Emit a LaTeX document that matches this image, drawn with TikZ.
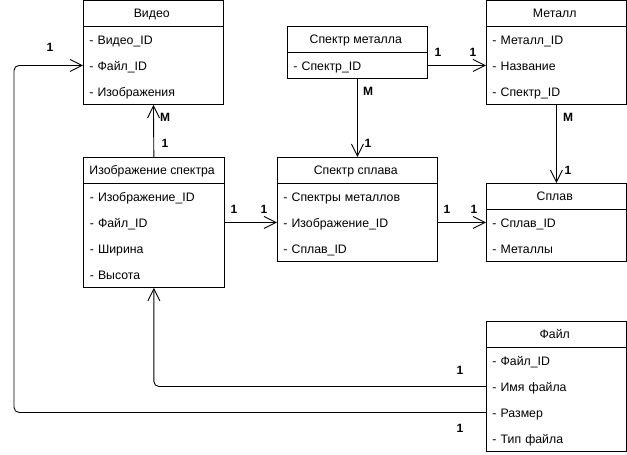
\documentclass[tikz,border=0pt]{standalone}
\usepackage{fontspec}
\setmainfont{Liberation Sans}
\usetikzlibrary{matrix,arrows.meta}
\tikzset{
entity/.style={
  matrix of nodes,
  draw,
  inner sep=0pt,
  row sep=0pt,
  nodes={anchor=center,text width=#1,inner xsep=6pt,inner ysep=0pt,
    minimum height=26pt,text height=12pt,text depth=2pt,align=left},
  row 1/.style={nodes={text width={},minimum width=#1+12pt,align=center,
    text height=11pt,text depth=3pt}}
},
entity/.default=128pt,
link/.style={-{Straight Barb[length=12pt,width=12pt]},rounded corners=5pt},
card/.style={font=\fontsize{12pt}{14pt}\selectfont\bfseries}
}

\begin{document}
\begin{tikzpicture}[x=1pt,y=-1pt,line width=0.9pt,font=\fontsize{12.3pt}{14pt}\selectfont]
\useasboundingbox (0,0) rectangle (627,455);
\matrix (video) [entity,anchor=north west] at (83,0) {
    Видео \\
    - Видео\_ID \\
    - Файл\_ID \\
    - Изображения \\
};
\matrix (smet) [entity,anchor=north west] at (287,26) {
    Спектр металла \\
    - Спектр\_ID \\
};
\matrix (metal) [entity,anchor=north west] at (486,0) {
    Металл \\
    - Металл\_ID \\
    - Название \\
    - Спектр\_ID \\
};
\matrix (img) [entity,anchor=north west] at (83,157) {
    Изображение~спектра \\
    - Изображение\_ID \\
    - Файл\_ID \\
    - Ширина \\
    - Высота \\
};
\matrix (spl) [entity=148pt,anchor=north west] at (277,157) {
    Спектр сплава \\
    - Спектры металлов \\
    - Изображение\_ID \\
    - Сплав\_ID \\
};
\matrix (alloy) [entity,anchor=north west] at (486,183) {
    Сплав \\
    - Сплав\_ID \\
    - Металлы \\
};
\matrix (file) [entity,anchor=north west] at (486,321) {
    Файл \\
    - Файл\_ID \\
    - Имя файла \\
    - Размер \\
    - Тип файла \\
};
% header rules
\foreach \m in {video,smet,metal,img,spl,alloy,file}
{
  \draw (\m-1-1.south west) -- (\m-1-1.south east);
}
% links
\draw[link] (smet-2-1.east) -- (metal-3-1.west);
\draw[link] (smet-2-1.south) -- (spl-1-1.north);
\draw[link] (metal-4-1.south) -- (alloy-1-1.north);
\draw[link] (img-1-1.north) -- (video-4-1.south);
\draw[link] (img-3-1.east) -- (spl-3-1.west);
\draw[link] (spl-3-1.east) -- (alloy-2-1.west);
\draw[link] (file-3-1.west) -| (img-5-1.south);
\coordinate (bend) at (14,0);
\draw[link] (file-4-1.west) -| (bend |- video-3-1.west) -- (video-3-1.west);
% cardinalities
\foreach \t/\x/\y [count=\i] in {1/50/47,M/165/117,1/165/143,1/438/52,1/473/52,
  M/368/91,1/368/143,M/568/117,1/568/170,1/234/209,1/264/209,1/447/209,
  1/474/209,1/460/370,1/460/428}
{
  \node[card] (lab\i) at (\x,\y) {\t};
}
\end{tikzpicture}
\end{document}
